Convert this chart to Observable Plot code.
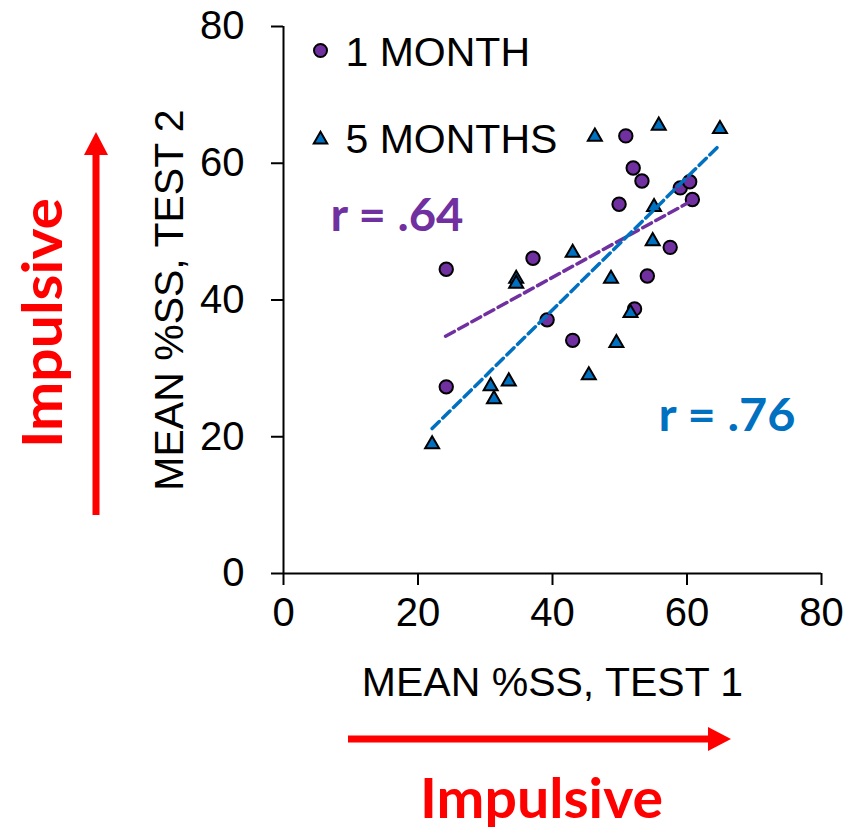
<!DOCTYPE html>
<html>
<head>
<meta charset="utf-8">
<script src="https://cdn.jsdelivr.net/npm/d3@7"></script>
<script src="https://cdn.jsdelivr.net/npm/@observablehq/plot@0.6"></script>
<style>
  html, body { margin: 0; padding: 0; background: #fff; }
  #chart svg { display: block; }
</style>
</head>
<body>
<div id="chart"></div>
<script>
// ---- data ----
const month1X = [50.9, 52.0, 53.3, 49.9, 59.0, 60.4, 60.8, 57.5, 37.1, 24.2, 54.1, 52.2, 39.2, 43.0, 24.2];
const month1Y = [64.0, 59.3, 57.4, 54.0, 56.4, 57.3, 54.7, 47.7, 46.1, 44.5, 43.5, 38.7, 37.1, 34.1, 27.3];
const month5X = [46.3, 55.8, 64.9, 55.1, 54.9, 43.0, 34.6, 34.6, 48.7, 51.6, 49.5, 33.5, 30.8, 31.3, 45.4, 22.1];
const month5Y = [63.9, 65.5, 65.0, 53.6, 48.6, 46.9, 43.1, 42.4, 43.1, 38.1, 33.7, 28.1, 27.4, 25.5, 29.0, 18.9];
const fit1X = [24.1, 60.5];
const fit1Y = [34.7, 54.4];
const fit5X = [22.1, 64.9];
const fit5Y = [21.2, 62.7];
const tickValues = [0, 20, 40, 60, 80];
const seriesLabels = ["1 MONTH", "5 MONTHS"];
const rLabels = ["r = .64", "r = .76"];
const xTitle = "MEAN %SS, TEST 1";
const yTitle = "MEAN %SS, TEST 2";
const arrowLabel = "Impulsive";

const PURPLE = "#7030A0";
const BLUE = "#0070C0";
const RED = "#FF0000";
const ARIAL = "Liberation Sans, Arial, sans-serif";
const CALIBRI = "Lato, Carlito, Calibri, sans-serif";

const m1 = month1X.map((x, i) => ({x, y: month1Y[i]}));
const m5 = month5X.map((x, i) => ({x, y: month5Y[i]}));
const f1 = fit1X.map((x, i) => ({x, y: fit1Y[i]}));
const f5 = fit5X.map((x, i) => ({x, y: fit5Y[i]}));

const plot = Plot.plot({
  width: 856,
  height: 829,
  marginLeft: 283,
  marginRight: 35,
  marginTop: 26,
  marginBottom: 256,
  style: {fontFamily: ARIAL, background: "#fff", overflow: "visible"},
  x: {domain: [0, 80]},
  y: {domain: [0, 80]},
  marks: [
    Plot.axisX(tickValues, {tickSize: 12, tickPadding: 12, fontSize: 40, strokeWidth: 2, label: null, color: "#000"}),
    Plot.axisY(tickValues, {tickSize: 12, tickPadding: 27, fontSize: 40, strokeWidth: 2, label: null, color: "#000"}),
    Plot.ruleX([0], {stroke: "#000", strokeWidth: 2}),
    Plot.ruleY([0], {stroke: "#000", strokeWidth: 2}),
    Plot.text([xTitle], {frameAnchor: "bottom", dy: 122, textAnchor: "middle", lineAnchor: "bottom", fontSize: 41, fill: "#000"}),
    Plot.text([yTitle], {frameAnchor: "left", dx: -101, rotate: -90, textAnchor: "middle", lineAnchor: "bottom", fontSize: 41, fill: "#000"}),
    Plot.dot(m1, {x: "x", y: "y", r: 6.7, fill: PURPLE, stroke: "#000", strokeWidth: 2}),
    Plot.dot(m5, {x: "x", y: "y", symbol: "triangle", r: 5.2, fill: BLUE, stroke: "#000", strokeWidth: 2}),
    Plot.line(f1, {x: "x", y: "y", stroke: PURPLE, strokeWidth: 3.5, strokeDasharray: "10,5"}),
    Plot.line(f5, {x: "x", y: "y", stroke: BLUE, strokeWidth: 3.5, strokeDasharray: "10,5"}),
    // legend
    Plot.dot([seriesLabels[0]], {frameAnchor: "top-left", dx: 37, dy: 24, r: 6.5, fill: PURPLE, stroke: "#000", strokeWidth: 2}),
    Plot.dot([seriesLabels[1]], {frameAnchor: "top-left", dx: 37, dy: 113, symbol: "triangle", r: 5, fill: BLUE, stroke: "#000", strokeWidth: 2}),
    Plot.text([seriesLabels[0]], {frameAnchor: "top-left", dx: 62, dy: 39, textAnchor: "start", lineAnchor: "bottom", fontSize: 41, fill: "#000"}),
    Plot.text([seriesLabels[1]], {frameAnchor: "top-left", dx: 62, dy: 126, textAnchor: "start", lineAnchor: "bottom", fontSize: 41, fill: "#000"}),
    // correlation labels
    Plot.text([rLabels[0]], {frameAnchor: "top-left", dx: 47, dy: 204, textAnchor: "start", lineAnchor: "bottom", fontSize: 46, fontWeight: "bold", fontFamily: CALIBRI, fill: PURPLE}),
    Plot.text([rLabels[1]], {frameAnchor: "top-left", dx: 375, dy: 404, textAnchor: "start", lineAnchor: "bottom", fontSize: 46, fontWeight: "bold", fontFamily: CALIBRI, fill: BLUE})
  ]
});

document.getElementById("chart").appendChild(plot);

// fit r labels to measured widths
const svg = d3.select(plot);
svg.selectAll("text").each(function () {
  const t = this.textContent;
  if (t === rLabels[0]) this.setAttribute("textLength", 133);
  if (t === rLabels[1]) this.setAttribute("textLength", 137);
  if (t === rLabels[0] || t === rLabels[1]) this.setAttribute("lengthAdjust", "spacingAndGlyphs");
});

// annotation arrows and labels in the margins
const ann = svg.append("g");
// vertical arrow
ann.append("rect").attr("x", 92.5).attr("y", 150).attr("width", 7).attr("height", 365).attr("fill", RED);
ann.append("path").attr("d", "M84,155 L108,155 L96,132 Z").attr("fill", RED);
// horizontal arrow
ann.append("rect").attr("x", 348).attr("y", 735.5).attr("width", 364).attr("height", 7).attr("fill", RED);
ann.append("path").attr("d", "M708,727 L708,751 L731,739 Z").attr("fill", RED);
// labels
ann.append("text")
  .attr("transform", "translate(62,323) rotate(-90)")
  .attr("text-anchor", "middle")
  .attr("font-family", CALIBRI).attr("font-weight", "bold").attr("font-size", 56)
  .attr("fill", RED)
  .attr("textLength", 250).attr("lengthAdjust", "spacingAndGlyphs")
  .text(arrowLabel);
ann.append("text")
  .attr("x", 541.5).attr("y", 818)
  .attr("text-anchor", "middle")
  .attr("font-family", CALIBRI).attr("font-weight", "bold").attr("font-size", 56)
  .attr("fill", RED)
  .attr("textLength", 243).attr("lengthAdjust", "spacingAndGlyphs")
  .text(arrowLabel);
</script>
</body>
</html>
